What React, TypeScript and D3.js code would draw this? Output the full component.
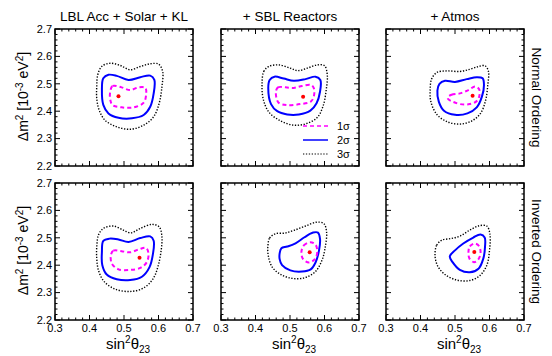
import * as d3 from "d3";

const xTicks = [0.3, 0.4, 0.5, 0.6, 0.7];
const yTicks = [2.2, 2.3, 2.4, 2.5, 2.6, 2.7];
const columnTitles = ["LBL Acc + Solar + KL", "+ SBL Reactors", "+ Atmos"];
const rowLabels = ["Normal Ordering", "Inverted Ordering"];
const sigmaLabels = ["1σ", "2σ", "3σ"];

type Pt = [number, number];

// Normal ordering, LBL Acc + Solar + KL
const noLbl3: Pt[] = [[0.421, 2.49], [0.424, 2.533], [0.436, 2.564], [0.46, 2.575], [0.489, 2.567], [0.518, 2.551], [0.547, 2.563], [0.576, 2.573], [0.6, 2.572], [0.612, 2.545], [0.61, 2.49], [0.602, 2.429], [0.586, 2.38], [0.557, 2.349], [0.518, 2.334], [0.479, 2.343], [0.445, 2.367], [0.428, 2.404], [0.421, 2.447]];
const noLbl2: Pt[] = [[0.436, 2.478], [0.44, 2.52], [0.455, 2.533], [0.479, 2.529], [0.513, 2.514], [0.547, 2.524], [0.576, 2.53], [0.588, 2.514], [0.586, 2.465], [0.576, 2.416], [0.557, 2.386], [0.523, 2.374], [0.484, 2.376], [0.455, 2.392], [0.44, 2.423]];
const noLbl1: Pt[] = [[0.46, 2.471], [0.467, 2.492], [0.493, 2.487], [0.518, 2.477], [0.542, 2.487], [0.562, 2.485], [0.564, 2.459], [0.557, 2.431], [0.528, 2.414], [0.493, 2.414], [0.467, 2.422], [0.46, 2.443]];
const noLblBest: Pt = [0.484, 2.455];

// Normal ordering, + SBL Reactors
const noSbl3: Pt[] = [[0.419, 2.502], [0.424, 2.545], [0.438, 2.563], [0.467, 2.569], [0.501, 2.557], [0.523, 2.548], [0.55, 2.557], [0.579, 2.569], [0.6, 2.566], [0.608, 2.533], [0.605, 2.478], [0.596, 2.419], [0.579, 2.377], [0.548, 2.355], [0.511, 2.349], [0.472, 2.365], [0.438, 2.398], [0.422, 2.447]];
const noSbl2: Pt[] = [[0.437, 2.484], [0.441, 2.514], [0.455, 2.526], [0.482, 2.519], [0.511, 2.511], [0.545, 2.517], [0.574, 2.526], [0.588, 2.514], [0.587, 2.471], [0.577, 2.429], [0.559, 2.402], [0.526, 2.388], [0.492, 2.388], [0.463, 2.4], [0.445, 2.426]];
const noSbl1: Pt[] = [[0.459, 2.468], [0.465, 2.487], [0.487, 2.487], [0.511, 2.485], [0.535, 2.492], [0.56, 2.496], [0.569, 2.484], [0.569, 2.453], [0.56, 2.435], [0.53, 2.426], [0.492, 2.422], [0.467, 2.431]];
const noSblBest: Pt = [0.538, 2.453];

// Normal ordering, + Atmos
const noAtm3: Pt[] = [[0.428, 2.478], [0.432, 2.517], [0.447, 2.541], [0.476, 2.547], [0.514, 2.545], [0.543, 2.553], [0.568, 2.563], [0.587, 2.566], [0.597, 2.545], [0.595, 2.496], [0.589, 2.441], [0.574, 2.392], [0.548, 2.364], [0.514, 2.353], [0.478, 2.361], [0.447, 2.389], [0.43, 2.435]];
const noAtm2: Pt[] = [[0.449, 2.475], [0.455, 2.5], [0.471, 2.511], [0.5, 2.507], [0.534, 2.517], [0.563, 2.524], [0.58, 2.52], [0.584, 2.496], [0.578, 2.453], [0.563, 2.414], [0.536, 2.392], [0.5, 2.387], [0.468, 2.402], [0.453, 2.435]];
const noAtm1: Pt[] = [[0.479, 2.451], [0.49, 2.46], [0.514, 2.465], [0.539, 2.477], [0.558, 2.49], [0.57, 2.48], [0.57, 2.453], [0.561, 2.435], [0.539, 2.425], [0.514, 2.426], [0.493, 2.435], [0.481, 2.443]];
const noAtmBest: Pt = [0.551, 2.456];

// Inverted ordering, LBL Acc + Solar + KL
const ioLbl3: Pt[] = [[0.421, 2.467], [0.426, 2.51], [0.44, 2.534], [0.469, 2.543], [0.498, 2.528], [0.52, 2.518], [0.547, 2.534], [0.581, 2.549], [0.602, 2.54], [0.61, 2.503], [0.607, 2.448], [0.598, 2.393], [0.584, 2.35], [0.557, 2.317], [0.518, 2.304], [0.474, 2.313], [0.442, 2.341], [0.426, 2.381], [0.421, 2.424]];
const ioLbl2: Pt[] = [[0.436, 2.448], [0.44, 2.489], [0.458, 2.497], [0.484, 2.494], [0.513, 2.485], [0.547, 2.499], [0.576, 2.505], [0.586, 2.489], [0.584, 2.442], [0.574, 2.393], [0.552, 2.358], [0.518, 2.346], [0.479, 2.349], [0.45, 2.366], [0.437, 2.401]];
const ioLbl1: Pt[] = [[0.462, 2.436], [0.469, 2.453], [0.493, 2.451], [0.518, 2.447], [0.542, 2.457], [0.564, 2.463], [0.571, 2.442], [0.566, 2.411], [0.547, 2.39], [0.518, 2.383], [0.484, 2.385], [0.465, 2.405]];
const ioLblBest: Pt = [0.545, 2.427];

// Inverted ordering, + SBL Reactors
const ioSbl3: Pt[] = [[0.436, 2.472], [0.441, 2.499], [0.458, 2.515], [0.484, 2.517], [0.511, 2.527], [0.545, 2.543], [0.577, 2.557], [0.598, 2.552], [0.606, 2.521], [0.602, 2.465], [0.593, 2.419], [0.574, 2.377], [0.542, 2.354], [0.506, 2.352], [0.472, 2.367], [0.448, 2.394], [0.437, 2.435]];
const ioSbl2: Pt[] = [[0.47, 2.443], [0.475, 2.462], [0.492, 2.468], [0.516, 2.48], [0.542, 2.502], [0.567, 2.519], [0.581, 2.519], [0.587, 2.496], [0.584, 2.453], [0.574, 2.41], [0.56, 2.385], [0.535, 2.377], [0.501, 2.381], [0.477, 2.4], [0.47, 2.422]];
const ioSbl1: Pt[] = [[0.533, 2.447], [0.54, 2.472], [0.558, 2.484], [0.574, 2.475], [0.579, 2.447], [0.572, 2.422], [0.555, 2.41], [0.538, 2.422]];
const ioSblBest: Pt = [0.557, 2.447];

// Inverted ordering, + Atmos
const ioAtm3: Pt[] = [[0.442, 2.44], [0.447, 2.473], [0.461, 2.491], [0.487, 2.497], [0.514, 2.506], [0.543, 2.528], [0.57, 2.544], [0.592, 2.543], [0.601, 2.516], [0.6, 2.454], [0.592, 2.399], [0.572, 2.362], [0.543, 2.344], [0.505, 2.346], [0.471, 2.366], [0.449, 2.399]];
const ioAtm2: Pt[] = [[0.485, 2.432], [0.5, 2.454], [0.524, 2.479], [0.553, 2.501], [0.574, 2.512], [0.586, 2.501], [0.587, 2.467], [0.582, 2.424], [0.568, 2.387], [0.543, 2.374], [0.514, 2.383], [0.493, 2.411]];
const ioAtm1: Pt[] = [[0.539, 2.448], [0.543, 2.469], [0.558, 2.479], [0.57, 2.469], [0.574, 2.444], [0.567, 2.42], [0.555, 2.411], [0.542, 2.424]];
const ioAtmBest: Pt = [0.556, 2.448];

const panels = [
  [
    { c1: noLbl1, c2: noLbl2, c3: noLbl3, best: noLblBest },
    { c1: noSbl1, c2: noSbl2, c3: noSbl3, best: noSblBest },
    { c1: noAtm1, c2: noAtm2, c3: noAtm3, best: noAtmBest },
  ],
  [
    { c1: ioLbl1, c2: ioLbl2, c3: ioLbl3, best: ioLblBest },
    { c1: ioSbl1, c2: ioSbl2, c3: ioSbl3, best: ioSblBest },
    { c1: ioAtm1, c2: ioAtm2, c3: ioAtm3, best: ioAtmBest },
  ],
];

const W = 552;
const H = 356;
const colX = [55, 221, 386];
const rowY = [29, 183];
const pw = 138;
const ph = 137;
const font = "'Liberation Sans', Arial, sans-serif";

const styles = {
  c1: { stroke: "#ff00ff", width: 2, dash: "4 3" },
  c2: { stroke: "#0000ff", width: 2, dash: "none" },
  c3: { stroke: "#000", width: 1.4, dash: "1.3 1.6" },
};

function Panel({ x0, y0, data, row, col }: any) {
  const x = d3.scaleLinear().domain([0.3, 0.7]).range([0, pw]);
  const y = d3.scaleLinear().domain([2.2, 2.7]).range([ph, 0]);
  const line = d3
    .line<Pt>()
    .x((d) => x(d[0]))
    .y((d) => y(d[1]))
    .curve(d3.curveCatmullRomClosed.alpha(0.5));
  const xMinor = d3.range(0.3, 0.7001, 0.02);
  const yMinor = d3.range(2.2, 2.7001, 0.02);
  const isMajor = (v: number) => Math.abs(v * 10 - Math.round(v * 10)) < 1e-6;

  return (
    <g transform={`translate(${x0},${y0})`}>
      {(["c3", "c2", "c1"] as const).map((k) => (
        <path
          key={k}
          d={line(data[k]) || ""}
          fill="none"
          stroke={styles[k].stroke}
          strokeWidth={styles[k].width}
          strokeDasharray={styles[k].dash}
        />
      ))}
      <circle cx={x(data.best[0])} cy={y(data.best[1])} r={2} fill="#ff0000" />

      {/* ticks on all four sides, pointing inward */}
      {xMinor.map((v, i) => {
        const len = isMajor(v) ? 5 : 2.5;
        return (
          <g key={"xt" + i} stroke="#000" strokeWidth={1}>
            <line x1={x(v)} x2={x(v)} y1={ph} y2={ph - len} />
            <line x1={x(v)} x2={x(v)} y1={0} y2={len} />
          </g>
        );
      })}
      {yMinor.map((v, i) => {
        const len = isMajor(v) ? 5 : 2.5;
        return (
          <g key={"yt" + i} stroke="#000" strokeWidth={1}>
            <line x1={0} x2={len} y1={y(v)} y2={y(v)} />
            <line x1={pw} x2={pw - len} y1={y(v)} y2={y(v)} />
          </g>
        );
      })}
      <rect x={0} y={0} width={pw} height={ph} fill="none" stroke="#000" strokeWidth={1.5} />

      {col === 0 &&
        yTicks.map((v) => (
          <text key={"yl" + v} x={-3} y={y(v)} dy="0.35em" textAnchor="end" fontSize={11} fill="#000">
            {v.toFixed(1)}
          </text>
        ))}
      {row === 1 &&
        xTicks.map((v) => (
          <text key={"xl" + v} x={x(v)} y={ph + 12} textAnchor="middle" fontSize={11} fill="#000">
            {v.toFixed(1)}
          </text>
        ))}
    </g>
  );
}

export default function App() {
  return (
    <svg width={W} height={H} style={{ position: "absolute", left: 0, top: 0, background: "#fff" }} fontFamily={font}>
      {columnTitles.map((t, c) => (
        <text key={t} x={colX[c] + pw / 2} y={21} textAnchor="middle" fontSize={13.5}>
          {t}
        </text>
      ))}
      {panels.map((rowData, r) =>
        rowData.map((d, c) => <Panel key={r + "-" + c} x0={colX[c]} y0={rowY[r]} data={d} row={r} col={c} />)
      )}
      {rowLabels.map((t, r) => (
        <text
          key={t}
          transform={`translate(${colX[2] + pw + 8},${rowY[r] + ph / 2}) rotate(90)`}
          textAnchor="middle"
          fontSize={13.5}
        >
          {t}
        </text>
      ))}
      {rowY.map((ry) => (
        <text
          key={"ylab" + ry}
          transform={`translate(28,${ry + ph / 2 - 1}) rotate(-90)`}
          textAnchor="middle"
          fontSize={14}
        >
          Δm<tspan dy="-5" fontSize={10}>2</tspan>
          <tspan dy="5"> [10</tspan>
          <tspan dy="-5" fontSize={10}>-3</tspan>
          <tspan dy="5"> eV</tspan>
          <tspan dy="-5" fontSize={10}>2</tspan>
          <tspan dy="5">]</tspan>
        </text>
      ))}
      {colX.map((cx) => (
        <text key={"xlab" + cx} x={cx + pw / 2 + 4} y={rowY[1] + ph + 29} textAnchor="middle" fontSize={15}>
          sin<tspan dy="-6" fontSize={10}>2</tspan>
          <tspan dy="6">θ</tspan>
          <tspan dy="4" fontSize={10}>23</tspan>
        </text>
      ))}
      {/* legend in the top middle panel */}
      {(["c1", "c2", "c3"] as const).map((k, i) => (
        <g key={"leg" + k} transform={`translate(303,${126 + i * 14})`}>
          <line
            x1={0}
            x2={25}
            y1={0}
            y2={0}
            stroke={styles[k].stroke}
            strokeWidth={k === "c3" ? 1.2 : styles[k].width - 0.5}
            strokeDasharray={styles[k].dash}
          />
          <text x={34} y={0} dy="0.35em" fontSize={11}>
            {sigmaLabels[i]}
          </text>
        </g>
      ))}
    </svg>
  );
}
